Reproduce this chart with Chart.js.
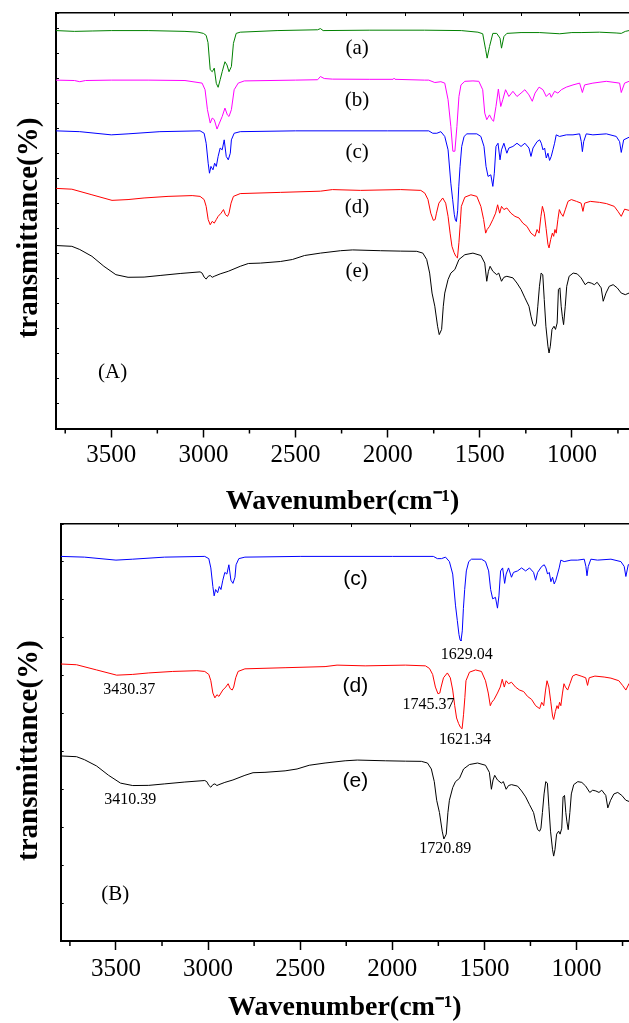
<!DOCTYPE html>
<html>
<head>
<meta charset="utf-8">
<script src="https://cdn.jsdelivr.net/npm/chart.js@4.4.1/dist/chart.umd.min.js"></script>
<style>
  html, body { margin: 0; padding: 0; background: #fff; overflow: hidden; }
  body { width: 629px; height: 1023px; position: relative; }
  canvas { position: absolute; left: 0; }
  #chartA { top: 0; }
  #chartB { top: 505px; }
</style>
</head>
<body>
<canvas id="chartA" width="629" height="525"></canvas>
<canvas id="chartB" width="629" height="530"></canvas>
<script>
// FTIR spectra, [wavenumber (cm-1), transmittance]
const specA = [[3800,100],[3700,99.8],[3600,99.9],[3500,100],[3300,100],[3100,99.8],[3030,99.6],[3000,99.3],[2985,98.8],[2975,97],[2963,90.2],[2952,89.7],[2941,90.6],[2930,86.8],[2920,85.8],[2909,87.7],[2898,89.7],[2883,92.2],[2872,91.4],[2861,89.7],[2848,91],[2837,96.8],[2822,99.3],[2800,99.6],[2600,100],[2380,100.2],[2365,100.5],[2350,100],[2100,100.1],[1800,100.1],[1600,100],[1510,99.6],[1484,99.2],[1468,95.2],[1460,93.1],[1447,96],[1429,99.3],[1408,99.3],[1390,98.1],[1382,95.6],[1369,98.5],[1353,99.3],[1276,99.5],[1175,99.5],[1066,99.2],[1000,99.5],[950,99.5],[850,99.6],[760,99.4],[732,99.3],[710,99.8],[690,100]];

const specB = [[3800,100],[3700,99.9],[3671,99.6],[3640,99.9],[3500,100],[3300,100],[3100,99.9],[3007,99.25],[2991,97.6],[2978,92.6],[2963,89.25],[2952,90.5],[2941,90.1],[2926,87.75],[2913,89.25],[2898,90.9],[2883,93],[2870,91.3],[2861,90.9],[2848,92.6],[2833,97.6],[2811,99.25],[2778,99.8],[2500,100],[2380,100.1],[2365,100.9],[2344,100.4],[2300,100.25],[2100,100.2],[1970,100.2],[1965,100.5],[1960,100.2],[1800,100],[1777,100],[1744,99.4],[1711,99.6],[1690,99.25],[1672,95.1],[1657,88.4],[1646,82.2],[1635,82.2],[1624,88.4],[1613,95.9],[1602,98.8],[1581,99.7],[1537,99.8],[1505,99.7],[1484,97.6],[1473,91.75],[1462,90.1],[1447,91.3],[1434,90.1],[1425,89.7],[1412,93.4],[1399,97.75],[1386,93.4],[1375,95.1],[1360,97.6],[1342,95.9],[1320,97.2],[1298,95.9],[1276,96.75],[1255,97.6],[1233,96.3],[1215,94.7],[1200,96.75],[1178,98.25],[1157,97.6],[1139,95.9],[1121,96.75],[1112,95.7],[1094,97.2],[1076,96.75],[1057,97.6],[1030,98.25],[994,98.8],[958,99.25],[943,96.9],[931,98.8],[886,99.25],[813,99.7],[741,99.25],[732,96.9],[714,99.25],[690,99.7]];

const specC = [[3800,100],[3671,99.8],[3500,99],[3409,99.25],[3236,99.8],[3018,100],[2996,99.4],[2985,96.9],[2974,91.9],[2967,89.4],[2959,91.1],[2948,90.25],[2939,91.9],[2930,91.1],[2920,93.6],[2909,95.7],[2898,95.25],[2887,97.75],[2876,93.6],[2865,92.75],[2854,94.4],[2848,97.75],[2833,99.4],[2800,99.8],[2500,100],[2000,100],[1777,100],[1755,99.4],[1733,99.4],[1711,99.8],[1690,98.6],[1672,95.25],[1657,86.9],[1647,82.75],[1638,79],[1632,77.6],[1627,77.3],[1620,80],[1614,86],[1607,91.1],[1598,96.1],[1585,98.6],[1570,99.25],[1516,99.25],[1494,98.6],[1477,96.1],[1466,91.1],[1455,88.6],[1440,89],[1429,86.1],[1421,89.4],[1412,96.1],[1401,96.9],[1390,92.75],[1382,95.25],[1369,96.9],[1353,94.4],[1342,95.7],[1320,96.1],[1298,96.9],[1276,96.1],[1255,96.9],[1233,95.7],[1222,93.6],[1211,95.7],[1189,97.3],[1175,97.75],[1166,96.9],[1157,95.25],[1148,95.7],[1139,93.2],[1130,94.4],[1121,92.6],[1112,93.6],[1103,95.25],[1094,96.9],[1085,99],[1067,98.6],[1030,99],[994,99],[958,99.25],[949,97.3],[943,94.8],[936,97.3],[922,99.25],[886,99],[813,99.25],[759,98.6],[741,97.3],[732,94.6],[719,97.75],[690,98.4]];

const specD = [[3800,100],[3714,99.8],[3605,98.4],[3496,97],[3409,97.2],[3322,97.6],[3192,98],[3061,98.2],[3018,98],[2996,97.2],[2985,95.5],[2974,92.2],[2963,90.9],[2952,91.75],[2941,91.3],[2930,92.2],[2920,93],[2904,93.8],[2891,94.7],[2880,93.4],[2869,93],[2861,93.8],[2850,96.3],[2837,98],[2800,98.7],[2582,99],[2365,99.3],[2300,99.7],[2147,99.5],[1929,99.7],[1820,99.5],[1798,98.8],[1781,97.2],[1766,93.8],[1752,92],[1742,92.2],[1735,93.8],[1722,96.3],[1701,97.6],[1685,96.3],[1672,93],[1661,88.8],[1651,85.5],[1640,84],[1630,83],[1621,82.6],[1613,86.5],[1606,91],[1600,95.5],[1581,97.8],[1548,98.4],[1516,98],[1494,95.5],[1479,92.2],[1468,88.8],[1460,89.7],[1447,90.5],[1429,92.2],[1414,93.8],[1403,95.9],[1392,93.8],[1382,95.5],[1369,94.7],[1353,95.1],[1331,93.8],[1309,93],[1287,92.6],[1266,91.3],[1244,90.5],[1222,88.8],[1200,88],[1189,89.7],[1178,88.8],[1168,93],[1160,95.5],[1150,93.8],[1140,90],[1130,86],[1124,85.1],[1115,87.2],[1106,88.8],[1099,88],[1092,89.7],[1085,88.8],[1076,92.2],[1068,94.7],[1060,93.8],[1048,93],[1035,94.8],[1021,96.75],[1003,97.2],[975,96.75],[950,96.3],[940,94.25],[931,96.3],[900,96.75],[850,96.5],[813,96.2],[770,95.5],[750,94.25],[732,93],[714,94.8],[690,94.5]];

const specE = [[3800,100.2],[3714,100],[3671,99.2],[3605,97.5],[3540,95],[3475,92.9],[3409,92.25],[3322,92.3],[3235,92.7],[3126,93.2],[3018,93.6],[3007,93.3],[2996,92.3],[2985,91.8],[2974,92.5],[2963,92.7],[2952,92.25],[2941,92.5],[2909,93.1],[2865,93.75],[2800,95],[2756,95.7],[2691,95.8],[2582,96.2],[2517,96.7],[2451,97.7],[2365,98.3],[2256,98.9],[2190,99.1],[2038,98.9],[1929,98.8],[1842,98.75],[1809,98.3],[1788,96.7],[1772,93.3],[1759,88.3],[1744,85],[1729,80],[1720,77.9],[1707,79.2],[1698,85],[1690,88.3],[1672,91.7],[1657,93.3],[1635,94.2],[1613,96.7],[1581,97.9],[1537,98.3],[1494,97.7],[1473,95.8],[1462,91.25],[1453,93.75],[1444,95],[1429,93.75],[1408,92.9],[1397,93.3],[1382,91.25],[1369,92.25],[1353,92.5],[1320,92.1],[1298,90.8],[1276,89.2],[1255,87.1],[1233,85],[1222,82.5],[1211,80.4],[1200,80],[1193,80.8],[1185,85],[1176,90],[1167,93.3],[1158,92.9],[1150,86.7],[1141,80],[1130,75],[1124,73.3],[1117,75],[1108,79.2],[1097,80],[1089,79.2],[1080,80.8],[1073,89.2],[1065,89.6],[1058,85],[1052,82.5],[1045,80.4],[1036,85],[1028,90],[1015,92.5],[993,93.3],[971,93.1],[950,92.1],[928,90.4],[912,91],[895,90.8],[878,90.4],[863,91],[841,89.6],[830,86.25],[815,88.3],[797,90],[776,90.4],[754,89.6],[732,88.3],[710,87.9],[690,88.3]];

// vertical stacking offsets: panel (A) a..e, panel (B) c..e
const offsetsTop = [-0.4, -12.8, -25.5, -39.9, -54.4];
const offsetsBottom = [3.3, -25.6, -50.5];

const xMajorTicks = [3500, 3000, 2500, 2000, 1500, 1000];
const xMinorTicks = [3750, 3250, 2750, 2250, 1750, 1250, 750];
const topTickSteps = [1, 2, 3, 4, 5, 6, 7, 8, 9];

const curveLabels = ['(a)', '(b)', '(c)', '(d)', '(e)'];
const panelLabels = ['(A)', '(B)'];
const peakLabels = ['1629.04', '3430.37', '1745.37', '1621.34', '3410.39', '1720.89'];

// label anchors in data coordinates [wavenumber, y]
const curveLabelPosTop = [[2166, 95.0], [2166, 82.2], [2166, 69.2], [2166, 55.2], [2166, 39.4]];
const curveLabelPosBottom = [[2200, 97.2], [2200, 68.5], [2200, 43.0]];
const panelLabelPos = [[3493, 13.9], [3504, 12.4]];
const peakLabelPos = [[1596, 77.0], [3428, 67.5], [1804, 63.4], [1605, 54.1], [3422, 37.9], [1712, 24.8]];

const SERIF = "'Liberation Serif', 'Times New Roman', Times, serif";
const SANS = "'Liberation Sans', Arial, Helvetica, sans-serif";

// extra axis decoration + text labels placed through the chart scales
const decorPlugin = {
  id: 'decor',
  afterDraw(chart, args, opts) {
    const ctx = chart.ctx;
    const xs = chart.scales.x, ys = chart.scales.y;
    const area = chart.chartArea;
    ctx.save();
    ctx.strokeStyle = '#000';
    ctx.lineWidth = 1.5;
    xMinorTicks.forEach(v => {
      if (v < xs.min || v > xs.max) return;
      const px = xs.getPixelForValue(v);
      ctx.beginPath();
      ctx.moveTo(px, area.bottom);
      ctx.lineTo(px, area.bottom + 5);
      ctx.stroke();
    });
    ctx.fillStyle = '#000';
    ctx.textAlign = 'center';
    ctx.textBaseline = 'middle';
    (opts.labels || []).forEach(l => {
      ctx.font = l.font;
      ctx.fillText(l.text, xs.getPixelForValue(l.pos[0]), ys.getPixelForValue(l.pos[1]));
    });
    ctx.restore();
  }
};

function buildChart(canvasId, cfg) {
  const datasets = cfg.series.map(s => ({
    data: s.points.map(p => ({ x: p[0], y: p[1] + s.offset })),
    borderColor: s.color,
    borderWidth: 1,
    pointRadius: 0,
    tension: 0,
    fill: false
  }));

  return new Chart(document.getElementById(canvasId), {
    type: 'line',
    data: { datasets },
    options: {
      responsive: false,
      animation: false,
      events: [],
      layout: { padding: { top: cfg.padTop, right: 0, bottom: 0, left: 0 } },
      plugins: {
        legend: { display: false },
        tooltip: { enabled: false },
        decor: { labels: cfg.labels }
      },
      scales: {
        x: {
          type: 'linear',
          reverse: true,
          min: cfg.xMin,
          max: 3800,
          afterBuildTicks: s => { s.ticks = xMajorTicks.map(v => ({ value: v })); },
          ticks: {
            color: '#000',
            font: { family: SERIF, size: 25 },
            padding: cfg.tickPad,
            maxRotation: 0,
            autoSkip: false,
            callback: v => String(v)
          },
          grid: { drawOnChartArea: false, tickLength: 9, tickColor: '#000', tickWidth: 1.5 },
          border: { color: '#000', width: 2 },
          title: {
            display: true,
            text: 'Wavenumber(cm\u207B\u00B9)',
            color: '#000',
            font: { family: SERIF, size: 28, weight: 'bold' },
            padding: { top: 0, bottom: cfg.titlePad }
          },
          afterFit: s => { s.height = cfg.xAxisHeight; }
        },
        xTop: {
          type: 'linear',
          position: 'top',
          min: 0,
          max: cfg.topMax,
          afterBuildTicks: s => { s.ticks = topTickSteps.map(v => ({ value: v })); },
          ticks: { display: false },
          grid: { drawOnChartArea: false, tickLength: -3, tickColor: '#000', tickWidth: 1 },
          border: { color: '#000', width: 1.5 },
          afterFit: s => { s.height = 0; }
        },
        y: {
          type: 'linear',
          min: 0,
          max: cfg.yMax,
          ticks: { display: false, stepSize: cfg.yStep },
          grid: { drawOnChartArea: false, tickLength: -3, tickColor: '#000', tickWidth: 1 },
          border: { color: '#000', width: 2 },
          title: {
            display: true,
            // trailing spaces nudge the rotated title down the axis, as in the original
            text: 'transmittance(%)' + ' '.repeat(cfg.titleNudge),
            color: '#000',
            font: { family: SERIF, size: 29, weight: 'bold' },
            padding: { top: 12, bottom: 0 }
          },
          afterFit: s => { s.width = cfg.yAxisWidth; }
        }
      }
    },
    plugins: [decorPlugin]
  });
}

const colours = ['#008000', '#ff00ff', '#0000ff', '#ff0000', '#000000'];
const allSpectra = [specA, specB, specC, specD, specE];

const topLabels = curveLabels.map((t, i) => ({ text: t, pos: curveLabelPosTop[i], font: '21px ' + SERIF }))
  .concat([{ text: panelLabels[0], pos: panelLabelPos[0], font: '21px ' + SERIF }]);

const bottomLabels = curveLabels.slice(2).map((t, i) => ({ text: t, pos: curveLabelPosBottom[i], font: '21px ' + SANS }))
  .concat([{ text: panelLabels[1], pos: panelLabelPos[1], font: '21px ' + SERIF }])
  .concat(peakLabels.map((t, i) => ({ text: t, pos: peakLabelPos[i], font: '16px ' + SERIF })));

buildChart('chartA', {
  series: allSpectra.map((p, i) => ({ points: p, offset: offsetsTop[i], color: colours[i] })),
  xMin: 690,
  yMax: 104,
  yStep: 6.25,
  padTop: 13,
  yAxisWidth: 56,
  xAxisHeight: 96.5,
  tickPad: 2.5,
  titlePad: 6,
  titleNudge: 2,
  topMax: 9.85,
  labels: topLabels
});

buildChart('chartB', {
  series: allSpectra.slice(2).map((p, i) => ({ points: p, offset: offsetsBottom[i], color: colours[i + 2] })),
  xMin: 715,
  yMax: 112,
  yStep: 10.2,
  padTop: 19,
  yAxisWidth: 60.7,
  xAxisHeight: 94,
  tickPad: 4,
  titlePad: 10,
  titleNudge: 5,
  topMax: 9.76,
  labels: bottomLabels
});
</script>
</body>
</html>
